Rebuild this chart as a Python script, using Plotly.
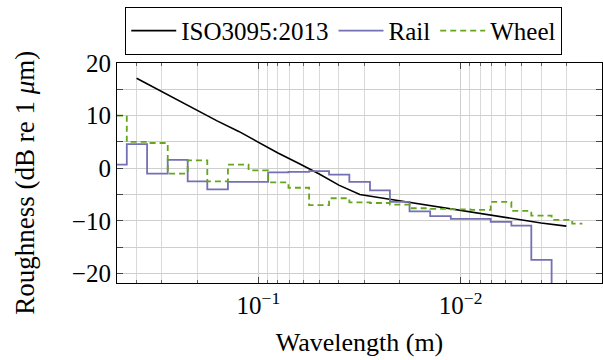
import numpy as np
import plotly.graph_objects as go

# ISO 3095:2013 limit spectrum
iso_wl = [0.4, 0.315, 0.25, 0.2, 0.16, 0.125, 0.1, 0.08, 0.063, 0.05, 0.04, 0.0315,
          0.025, 0.02, 0.016, 0.0125, 0.01, 0.008, 0.0063, 0.005, 0.004, 0.003]
iso_db = [17.1, 15.0, 13.0, 11.0, 9.0, 7.0, 4.9, 2.9, 0.9, -1.1, -3.2, -5.0,
          -5.6, -6.2, -6.8, -7.4, -8.0, -8.6, -9.2, -9.8, -10.4, -11.0]

# Rail roughness (1/3 octave bands)
rail_wl = [0.5, 0.4, 0.315, 0.25, 0.2, 0.16, 0.125, 0.1, 0.08, 0.063, 0.05, 0.04,
           0.0315, 0.025, 0.02, 0.016, 0.0125, 0.01, 0.008, 0.0063, 0.005, 0.004, 0.00315]
rail_db = [0.7, 4.6, -1.0, 1.6, -2.5, -4.0, -2.6, -2.6, -0.8, -0.7, -0.55, -1.2,
           -2.6, -4.2, -6.4, -8.2, -9.1, -9.6, -9.6, -10.2, -10.9, -17.4, -26.0]

# Wheel roughness (1/3 octave bands)
wheel_wl = [0.5, 0.4, 0.315, 0.25, 0.2, 0.16, 0.125, 0.1, 0.08, 0.063, 0.05, 0.04,
            0.0315, 0.025, 0.02, 0.016, 0.0125, 0.01, 0.008, 0.0063, 0.005, 0.004,
            0.00315, 0.0025]
wheel_db = [10.0, 5.0, 4.8, -1.0, 1.5, -2.5, 0.7, -0.4, -2.7, -3.7, -7.0, -5.7,
            -6.5, -6.6, -6.9, -7.6, -7.7, -7.8, -7.9, -6.4, -8.1, -9.0,
            -9.8, -10.5]

x_major = [0.1, 0.01]
x_major_text = ["10<sup>−1</sup>", "10<sup>−2</sup>"]
x_minor = [m * d for d in (0.001, 0.01, 0.1) for m in range(2, 10)] + [0.5]

y_major = [-20, -10, 0, 10, 20]
y_major_text = ["−20", "−10", "0", "10", "20"]
y_minor = [-15, -5, 5, 15]

FONT = "Times New Roman, Liberation Serif, DejaVu Serif, serif"

fig = go.Figure()
fig.add_trace(go.Scatter(x=iso_wl, y=iso_db, mode="lines", name="ISO3095:2013",
                         line=dict(color="black", width=1.6)))
fig.add_trace(go.Scatter(x=rail_wl, y=rail_db, mode="lines", name="Rail",
                         line=dict(color="#7570b3", width=1.8, shape="hvh")))
fig.add_trace(go.Scatter(x=wheel_wl, y=wheel_db, mode="lines", name="Wheel",
                         line=dict(color="#66a61e", width=1.8, shape="hvh", dash="6px,4px")))

fig.update_layout(
    width=603, height=360,
    margin=dict(l=117, r=1, t=63, b=77),
    paper_bgcolor="white", plot_bgcolor="white",
    font=dict(family=FONT, size=25, color="black"),
    showlegend=True,
    legend=dict(orientation="h", x=0.017, y=1.255, xanchor="left", yanchor="top",
                bordercolor="black", borderwidth=1, bgcolor="white",
                font=dict(family=FONT, size=25), itemwidth=45,
                tracegroupgap=0),
    annotations=[dict(text="Roughness (dB re 1 <i>μ</i>m)", textangle=-90,
                      xref="paper", yref="paper", x=-0.19, y=0.455,
                      xanchor="center", yanchor="middle", showarrow=False,
                      font=dict(family=FONT, size=27, color="black"))],
)
fig.update_xaxes(
    type="log", range=[np.log10(0.5), np.log10(0.002)],
    tickmode="array", tickvals=x_major, ticktext=x_major_text,
    ticks="inside", ticklen=6, tickcolor="#444", tickwidth=1,
    showgrid=True, gridcolor="#cfcfcf", gridwidth=1,
    minor=dict(tickmode="array", tickvals=x_minor, ticks="inside", ticklen=3,
               tickcolor="#666", showgrid=True, gridcolor="#d9d9d9", gridwidth=1),
    showline=True, linecolor="black", linewidth=1.2, mirror="allticks",
    zeroline=False,
    title=dict(text="Wavelength (m)", standoff=14, font=dict(family=FONT, size=26)),
    tickfont=dict(family=FONT, size=25),
)
fig.update_yaxes(
    range=[-21.8, 20], tickmode="array", tickvals=y_major, ticktext=y_major_text,
    ticks="inside", ticklen=6, tickcolor="#444",
    showgrid=True, gridcolor="#cfcfcf", gridwidth=1,
    minor=dict(tickmode="array", tickvals=y_minor, ticks="inside", ticklen=6,
               tickcolor="#444", showgrid=True, gridcolor="#cfcfcf"),
    showline=True, linecolor="black", linewidth=1.2, mirror="allticks",
    zeroline=False,
    tickfont=dict(family=FONT, size=25),
)

fig.write_html("out.html")
